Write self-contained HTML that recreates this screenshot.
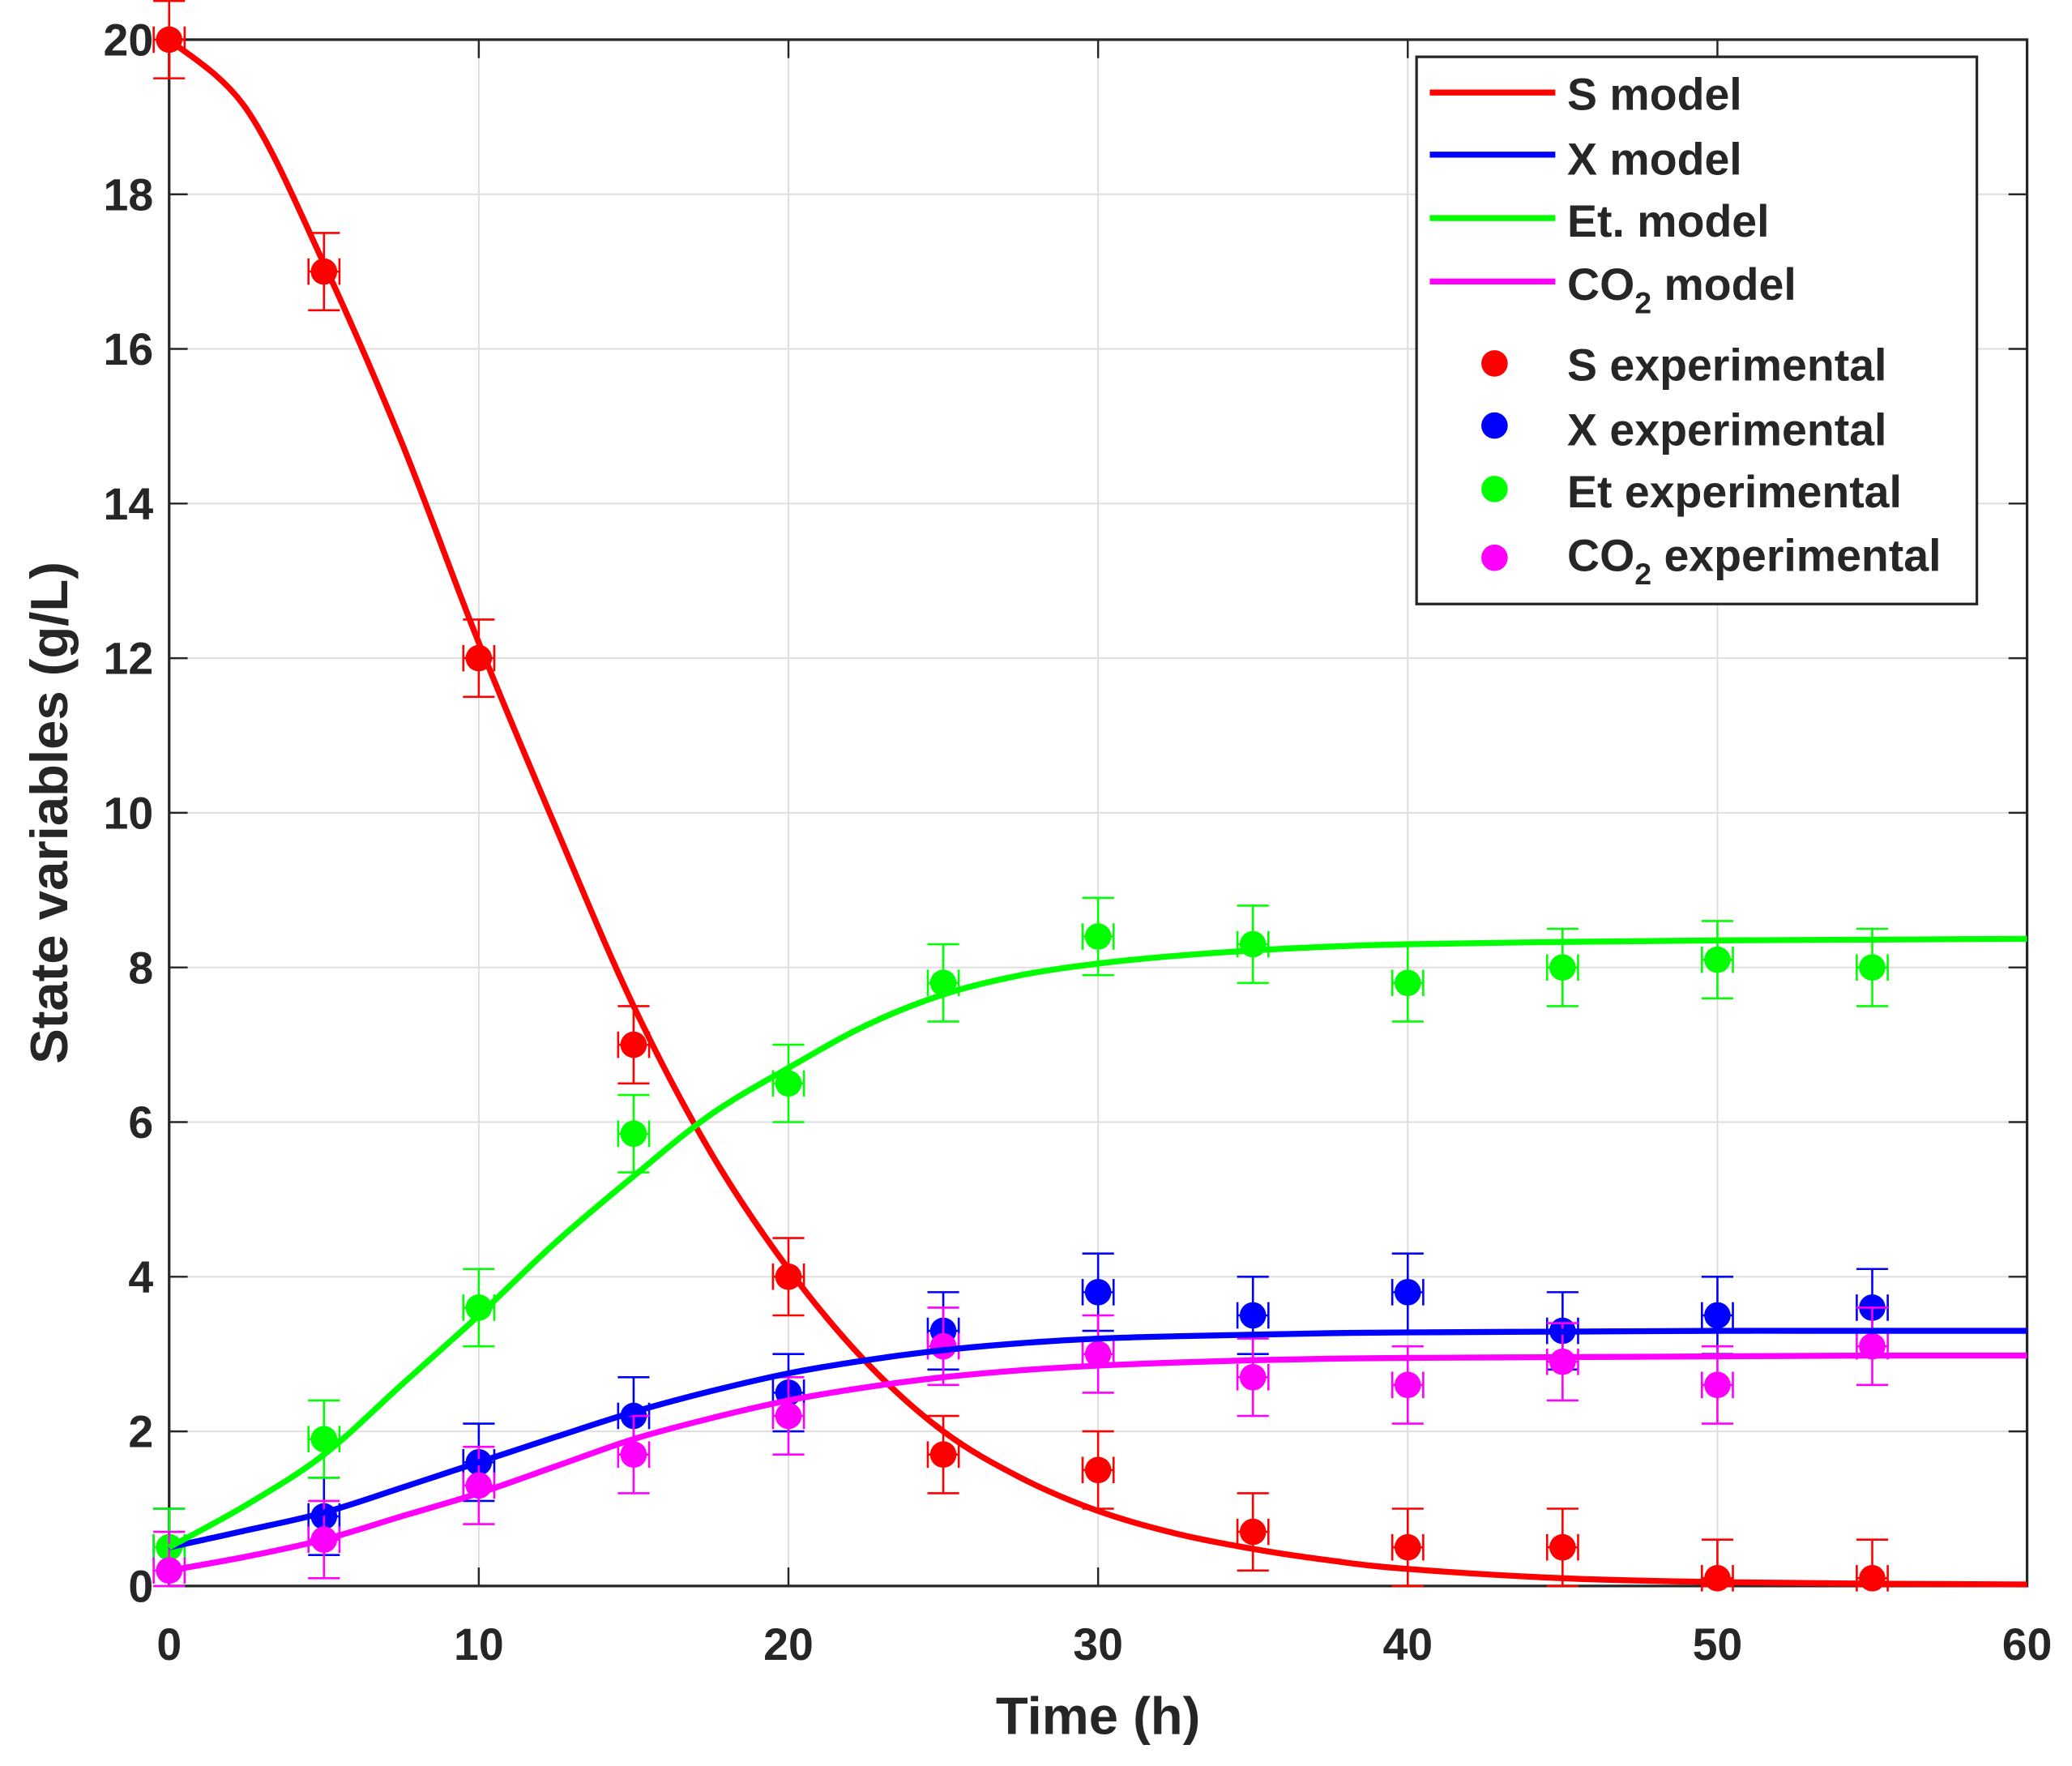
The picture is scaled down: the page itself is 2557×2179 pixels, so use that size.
<!DOCTYPE html>
<html><head><meta charset="utf-8"><style>
html,body{margin:0;padding:0;background:#fff;}
svg{display:block;}
text{font-family:"Liberation Sans",Arial,sans-serif;font-weight:bold;fill:#262626;}
</style></head><body>
<svg id="chart" width="2557" height="2179" viewBox="0 0 1568 1336.2" xmlns="http://www.w3.org/2000/svg">
<g id="grid"></g>
<g id="axes"></g>
<g id="series"></g>
<text x="831" y="1312" font-size="40" text-anchor="middle">Time (h)</text>
<text transform="translate(51,615) rotate(-90)" font-size="40" text-anchor="middle">State variables (g/L)</text>
<g id="legend">
<rect x="1072" y="43" width="424" height="414" fill="#fff" stroke="#262626" stroke-width="2"/>
<line x1="1082" y1="70" x2="1177" y2="70" stroke="#ff0000" stroke-width="4.5"/>
<line x1="1082" y1="117" x2="1177" y2="117" stroke="#0000ff" stroke-width="4.5"/>
<line x1="1082" y1="165" x2="1177" y2="165" stroke="#00ff00" stroke-width="4.5"/>
<line x1="1082" y1="213" x2="1177" y2="213" stroke="#ff00ff" stroke-width="4.5"/>
<circle cx="1131" cy="275" r="10" fill="#ff0000"/>
<circle cx="1131" cy="322" r="10" fill="#0000ff"/>
<circle cx="1131" cy="370" r="10" fill="#00ff00"/>
<circle cx="1131" cy="422" r="10" fill="#ff00ff"/>
<text x="1186" y="83" font-size="34" fill="#000">S model</text>
<text x="1186" y="132" font-size="34" fill="#000">X model</text>
<text x="1186" y="179" font-size="34" fill="#000">Et. model</text>
<text x="1186" y="227" font-size="34" fill="#000">CO<tspan font-size="23" dy="10">2</tspan><tspan dy="-10"> model</tspan></text>
<text x="1186" y="288" font-size="34" fill="#000">S experimental</text>
<text x="1186" y="337" font-size="34" fill="#000">X experimental</text>
<text x="1186" y="384" font-size="34" fill="#000">Et experimental</text>
<text x="1186" y="432" font-size="34" fill="#000">CO<tspan font-size="23" dy="10">2</tspan><tspan dy="-10"> experimental</tspan></text>
</g>
</svg>
<script>
const xTicks=[0,10,20,30,40,50,60];
const yTicks=[0,2,4,6,8,10,12,14,16,18,20];
const expT=[0,5,10,15,20,25,30,35,40,45,50,55];
const sExp=[20,17,12,7,4,1.7,1.5,0.7,0.5,0.5,0.1,0.1];
const xExp=[0.5,0.9,1.6,2.2,2.5,3.3,3.8,3.5,3.8,3.3,3.5,3.6];
const etExp=[0.5,1.9,3.6,5.85,6.5,7.8,8.4,8.3,7.8,8.0,8.1,8.0];
const co2Exp=[0.2,0.6,1.3,1.7,2.2,3.1,3.0,2.7,2.6,2.9,2.6,3.1];
const errY=0.5, errX=0.5;
const modelT=[0,2.5,5,7.5,10,12.5,15,17.5,20,22.5,25,27.5,30,32.5,35,37.5,40,45,50,55,60];
const sModel=[20,19.1,17.1,14.8,12.2,9.8,7.5,5.6,4.1,2.9,2.0,1.4,0.97,0.68,0.48,0.33,0.22,0.1,0.05,0.03,0.02];
const xModel=[0.5,0.72,0.95,1.27,1.6,1.93,2.25,2.52,2.75,2.92,3.05,3.14,3.2,3.23,3.25,3.27,3.28,3.29,3.3,3.3,3.3];
const etModel=[0.5,1.05,1.7,2.6,3.5,4.45,5.3,6.1,6.7,7.25,7.65,7.9,8.05,8.15,8.22,8.27,8.3,8.33,8.35,8.36,8.37];
const co2Model=[0.2,0.38,0.6,0.9,1.2,1.55,1.9,2.17,2.4,2.57,2.7,2.79,2.85,2.89,2.92,2.94,2.95,2.96,2.97,2.98,2.98];
const X0=128,X1=1534,Y0=1200,Y1=30;
const sx=t=>X0+(t-0)/(60-0)*(X1-X0);
const sy=v=>Y0-(v-0)/(20-0)*(Y0-Y1);
const NS='http://www.w3.org/2000/svg';
function mk(tag,parent,attrs){const e=document.createElementNS(NS,tag);for(const k in attrs)e.setAttribute(k,attrs[k]);parent.appendChild(e);return e;}
const grid=document.getElementById('grid'),axes=document.getElementById('axes'),ser=document.getElementById('series');
mk('rect',grid,{x:X0,y:Y1,width:X1-X0,height:Y0-Y1,fill:'#fff'});
xTicks.forEach(t=>{
 const g=mk('line',grid,{x1:sx(t),x2:sx(t),y1:Y1,y2:Y0,stroke:'#dedede','stroke-width':1.2});
 
 
 mk('line',axes,{x1:sx(t),x2:sx(t),y1:Y0,y2:Y0-14,stroke:'#262626','stroke-width':1.5});
 mk('line',axes,{x1:sx(t),x2:sx(t),y1:Y1,y2:Y1+14,stroke:'#262626','stroke-width':1.5});
 const l=mk('text',axes,{x:sx(t),y:Y0+56,'font-size':34,'text-anchor':'middle'});
 l.textContent=t;
 
 
});
yTicks.forEach(v=>{
 const g=mk('line',grid,{x1:X0,x2:X1,y1:sy(v),y2:sy(v),stroke:'#dedede','stroke-width':1.2});
 
 
 mk('line',axes,{x1:X0,x2:X0+14,y1:sy(v),y2:sy(v),stroke:'#262626','stroke-width':1.5});
 mk('line',axes,{x1:X1,x2:X1-14,y1:sy(v),y2:sy(v),stroke:'#262626','stroke-width':1.5});
 const l=mk('text',axes,{x:X0-12,y:sy(v)+12,'font-size':34,'text-anchor':'end'});
 l.textContent=v;
 
 
});
mk('rect',axes,{x:X0,y:Y1,width:X1-X0,height:Y0-Y1,fill:'none',stroke:'#262626','stroke-width':2});
function smooth(ts,vs){
 const p=ts.map((t,i)=>[sx(t),sy(vs[i])]);
 let d='M'+p[0][0]+','+p[0][1];
 for(let i=0;i<p.length-1;i++){
  const a=p[i-1]||p[i],b=p[i],c=p[i+1],e=p[i+2]||c;
  d+=' C'+(b[0]+(c[0]-a[0])/6)+','+(b[1]+(c[1]-a[1])/6)+' '+(c[0]-(e[0]-b[0])/6)+','+(c[1]-(e[1]-b[1])/6)+' '+c[0]+','+c[1];
 }
 return d;
}
const defs=[['s','#ff0000',sExp,sModel],['x','#0000ff',xExp,xModel],['et','#00ff00',etExp,etModel],['co2','#ff00ff',co2Exp,co2Model]];
defs.forEach(([n,c,ex])=>{
 expT.forEach((t,i)=>{
  const g=mk('g',ser,{stroke:c,'stroke-width':1.6,fill:c});
  
  
  const x=sx(t),y=sy(ex[i]),yt=sy(Math.min(20.5,ex[i]+errY)),yb=sy(Math.max(0,ex[i]-errY));
  mk('line',g,{x1:x,x2:x,y1:yt,y2:yb});
  mk('line',g,{x1:x-12,x2:x+12,y1:yt,y2:yt});
  mk('line',g,{x1:x-12,x2:x+12,y1:yb,y2:yb});
  const xl=sx(t-errX),xr=sx(t+errX);
  mk('line',g,{x1:xl,x2:xr,y1:y,y2:y});
  mk('line',g,{x1:xl,x2:xl,y1:y-10,y2:y+10});
  mk('line',g,{x1:xr,x2:xr,y1:y-10,y2:y+10});
  mk('circle',g,{cx:x,cy:y,r:10,stroke:'none'});
 });
});
defs.forEach(([n,c,ex,mo])=>{
 const p=mk('path',ser,{d:smooth(modelT,mo),fill:'none',stroke:c,'stroke-width':4.5,'stroke-linejoin':'round'});
 
 
});
</script>
</body></html>
